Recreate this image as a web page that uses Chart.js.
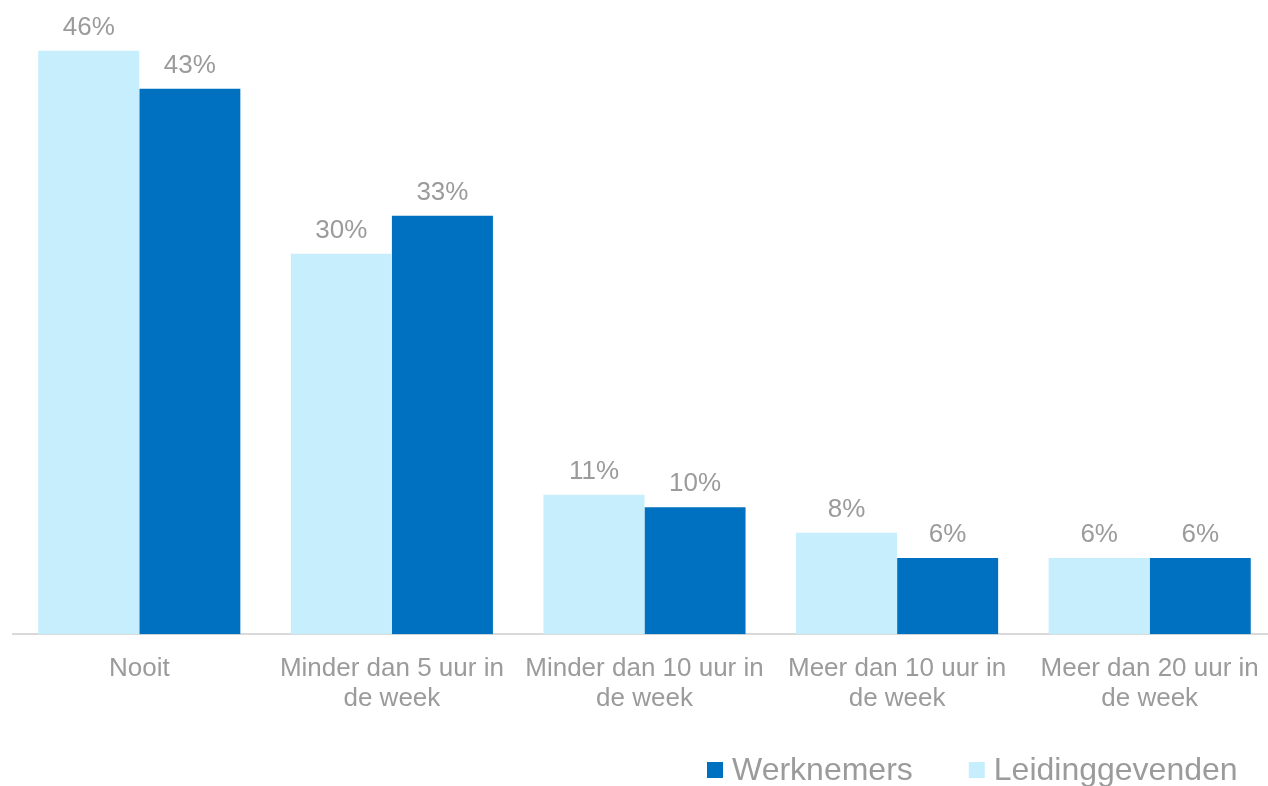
<!DOCTYPE html>
<html>
<head>
<meta charset="utf-8">
<script src="https://cdn.jsdelivr.net/npm/chart.js@4.4.1/dist/chart.umd.min.js"></script>
<style>
  html, body { margin: 0; padding: 0; background: #fff; overflow: hidden; }
  #wrap { width: 1280px; height: 786px; }
</style>
</head>
<body>
<div id="wrap"><canvas id="myChart"></canvas></div>
<script>
const categories = [
	'Nooit',
	['Minder dan 5 uur in', 'de week'],
	['Minder dan 10 uur in', 'de week'],
	['Meer dan 10 uur in', 'de week'],
	['Meer dan 20 uur in', 'de week']
];
const leidinggevenden = [46, 30, 11, 8, 6];
const werknemers = [43, 33, 10, 6, 6];

const FONT = '"Liberation Sans", Arial, sans-serif';
const GREY = '#9b9b9b';

// percentage above every bar
const valueLabels = {
	id: 'valueLabels',
	afterDatasetsDraw(chart) {
		const ctx = chart.ctx;
		ctx.save();
		ctx.font = '26px ' + FONT;
		ctx.fillStyle = GREY;
		ctx.textAlign = 'center';
		ctx.textBaseline = 'alphabetic';
		chart.data.datasets.forEach((ds, i) => {
			chart.getDatasetMeta(i).data.forEach((bar, j) => {
				ctx.fillText(ds.data[j] + '%', bar.x, bar.y - 16);
			});
		});
		ctx.restore();
	}
};

// legend bottom right, dark series first
const bottomLegend = {
	id: 'bottomLegend',
	afterDraw(chart) {
		const ctx = chart.ctx;
		const items = chart.data.datasets.slice().reverse();
		let x = 707;
		const y = 770;
		ctx.save();
		ctx.font = '32px ' + FONT;
		ctx.textBaseline = 'middle';
		items.forEach(ds => {
			ctx.fillStyle = ds.backgroundColor;
			ctx.fillRect(x, y - 8, 16, 16);
			ctx.fillStyle = GREY;
			ctx.fillText(ds.label, x + 25, y + 1);
			x += 25 + ctx.measureText(ds.label).width + 56;
		});
		ctx.restore();
	}
};

const ctx = document.getElementById('myChart').getContext('2d');

const myChart = new Chart(ctx, {
	type: 'bar',
	data: {
		labels: categories,
		datasets: [{
			label: 'Leidinggevenden',
			data: leidinggevenden,
			backgroundColor: '#c6eefd'
		}, {
			label: 'Werknemers',
			data: werknemers,
			backgroundColor: '#0070c0'
		}]
	},
	options: {
		responsive: true,
		maintainAspectRatio: false,
		animation: false,
		layout: {
			padding: { left: 13, right: 4, top: 0, bottom: 52 }
		},
		barPercentage: 1,
		categoryPercentage: 0.8,
		plugins: {
			legend: { display: false },
			tooltip: { enabled: false }
		},
		scales: {
			x: {
				grid: { display: false, drawTicks: false },
				border: { display: true, color: '#d9d9d9', width: 2 },
				ticks: {
					color: GREY,
					padding: 20,
					maxRotation: 0,
					autoSkip: false,
					font: { family: FONT, size: 26, lineHeight: 1.15 }
				}
			},
			y: {
				display: false,
				min: 0,
				max: 50
			}
		}
	},
	plugins: [valueLabels, bottomLegend]
});
</script>
</body>
</html>
